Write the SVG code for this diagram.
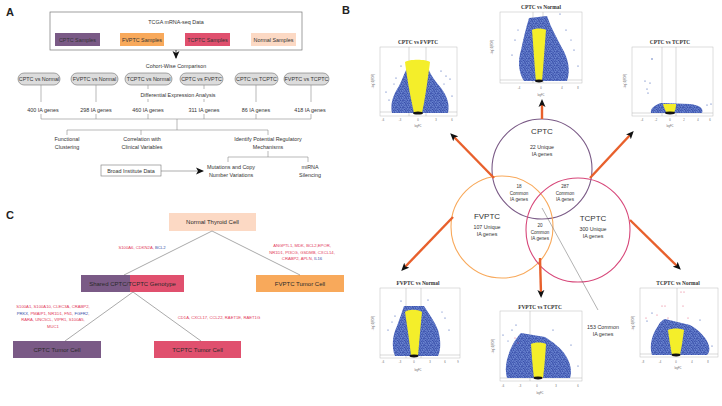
<svg xmlns="http://www.w3.org/2000/svg" width="722" height="406" viewBox="0 0 722 406">
<style>
.t{font-family:"Liberation Sans","Open Sans",Arial,sans-serif;fill:#333;text-anchor:middle}
.s{font-size:5.4px}
.lab{font-family:"Liberation Sans",Arial,sans-serif;font-weight:bold;font-size:11px;fill:#222}
.ln{stroke:#8a8a8a;stroke-width:0.6;fill:none}
.pill{fill:#dcdcdc;stroke:#6e6e6e;stroke-width:0.6}
.gene{font-family:"Liberation Sans",Arial,sans-serif;font-size:4.2px;fill:#e23a5a;text-anchor:middle}
.blue{fill:#3a4fa8}
.box{font-family:"Liberation Sans",Arial,sans-serif;font-size:6px;fill:#2a2a2a;text-anchor:middle}
.oarr{stroke:#e8602c;stroke-width:2.4;fill:none;marker-end:url(#ah)}
.vt{font-family:"Liberation Serif","Times New Roman",serif;font-weight:bold;font-size:5.4px;fill:#333;text-anchor:middle}
.fr{fill:#fff;stroke:#bdbdbd;stroke-width:0.5}
.th{stroke:#b0b0b0;stroke-width:0.5}
.cl{fill:#3556b0}
.yl{fill:#f4ee2a}
.cloud{fill:url(#dots)}
.ax{font-family:"Liberation Sans",Arial,sans-serif;font-size:2.6px;fill:#666;text-anchor:middle}
.vn{font-family:"Liberation Sans",Arial,sans-serif;fill:#333;text-anchor:middle}
</style>
<defs>
<marker id="ah" markerUnits="userSpaceOnUse" markerWidth="8" markerHeight="8" refX="4" refY="4" orient="auto"><path d="M0,0.5 L8,4 L0,7.5 L2,4 Z" fill="#111"/></marker>
<marker id="bh" markerUnits="userSpaceOnUse" markerWidth="8" markerHeight="8" refX="7" refY="4" orient="auto"><path d="M0,0.5 L8,4 L0,7.5 L2,4 Z" fill="#111"/></marker>
<pattern id="dots" width="7" height="7" patternUnits="userSpaceOnUse">
<rect width="7" height="7" fill="#6d87d2"/>
<g fill="#23389a">
<circle cx="0.6" cy="0.8" r="0.6"/><circle cx="2.3" cy="0.3" r="0.55"/><circle cx="4.1" cy="1.2" r="0.6"/><circle cx="5.9" cy="0.6" r="0.55"/>
<circle cx="1.4" cy="2.2" r="0.6"/><circle cx="3.2" cy="2.6" r="0.55"/><circle cx="5.0" cy="2.4" r="0.6"/><circle cx="6.6" cy="2.9" r="0.5"/>
<circle cx="0.4" cy="3.9" r="0.55"/><circle cx="2.2" cy="4.1" r="0.6"/><circle cx="4.0" cy="3.8" r="0.55"/><circle cx="5.8" cy="4.4" r="0.6"/>
<circle cx="1.2" cy="5.6" r="0.6"/><circle cx="3.1" cy="5.4" r="0.55"/><circle cx="4.8" cy="6.0" r="0.6"/><circle cx="6.5" cy="5.9" r="0.55"/>
<circle cx="0.3" cy="6.7" r="0.45"/><circle cx="2.6" cy="6.8" r="0.45"/>
</g>
<g fill="#4a66c0"><circle cx="3.5" cy="0.7" r="0.4"/><circle cx="6.2" cy="1.7" r="0.4"/><circle cx="0.5" cy="2.9" r="0.4"/><circle cx="4.7" cy="4.9" r="0.4"/><circle cx="1.9" cy="4.9" r="0.4"/></g>
</pattern>
</defs>
<rect width="722" height="406" fill="#fff"/>

<text class="lab" x="6" y="16">A</text>
<text class="lab" x="342" y="14">B</text>
<text class="lab" x="6" y="219">C</text>

<!-- Panel A -->
<g id="tcga">
<rect x="50" y="12" width="252" height="38" fill="#fff" stroke="#777" stroke-width="0.7"/>
<text class="t s" x="176" y="24">TCGA mRNA-seq Data</text>
<rect x="55" y="33" width="45" height="13" fill="#7a5a86"/>
<text class="t s" x="77.5" y="41.5">CPTC Samples</text>
<rect x="120" y="33" width="44" height="13" fill="#f8a95b"/>
<text class="t s" x="142" y="41.5">FVPTC Samples</text>
<rect x="185" y="33" width="45" height="13" fill="#e0506e"/>
<text class="t s" x="207.5" y="41.5">TCPTC Samples</text>
<rect x="251" y="33" width="45" height="13" fill="#fcd9c4"/>
<text class="t s" x="273.5" y="41.5">Normal Samples</text>
</g>
<text class="t s" x="176" y="67.5">Cohort-Wise Comparison</text>
<g id="pills">
<rect class="pill" x="18" y="73" width="42" height="12" rx="6"/><text class="t s" x="39" y="81">CPTC vs Normal</text>
<rect class="pill" x="71" y="73" width="47" height="12" rx="6"/><text class="t s" x="94.5" y="81">FVPTC vs Normal</text>
<rect class="pill" x="125" y="73" width="47" height="12" rx="6"/><text class="t s" x="148.5" y="81">TCPTC vs Normal</text>
<rect class="pill" x="180" y="73" width="43" height="12" rx="6"/><text class="t s" x="201.5" y="81">CPTC vs FVPTC</text>
<rect class="pill" x="235" y="73" width="43" height="12" rx="6"/><text class="t s" x="256.5" y="81">CPTC vs TCPTC</text>
<rect class="pill" x="284" y="73" width="45" height="12" rx="6"/><text class="t s" x="306.5" y="81">FVPTC vs TCPTC</text>
</g>
<text class="t s" x="178" y="97">Differential Expression Analysis</text>
<g class="t s">
<text x="43" y="112">400 IA genes</text>
<text x="96" y="112">298 IA genes</text>
<text x="148" y="112">460 IA genes</text>
<text x="204" y="112">311 IA genes</text>
<text x="256" y="112">86 IA genes</text>
<text x="310" y="112">418 IA genes</text>
</g>
<g class="t s">
<text x="67" y="141">Functional</text><text x="67" y="149">Clustering</text>
<text x="142" y="141">Correlation with</text><text x="142" y="149">Clinical Variables</text>
<text x="268" y="141">Identify Potential Regulatory</text><text x="268" y="149">Mechanisms</text>
<text x="231" y="169">Mutations and Copy</text><text x="231" y="177">Number Variations</text>
<text x="310" y="169">miRNA</text><text x="310" y="177">Silencing</text>
</g>
<g id="broad">
<rect x="101" y="165" width="60" height="11" fill="#fff" stroke="#777" stroke-width="0.6"/>
<text class="t s" x="131" y="172.5">Broad Institute Data</text>
</g>
<g id="connectorsA">
<line x1="176" y1="50" x2="176" y2="58" stroke="#111" stroke-width="0.8" marker-end="url(#bh)"/>
<path class="ln" d="M41,85V102 M96,85V102 M148,85V89 M148,99V102 M204,85V89 M204,99V102 M256,85V102 M311,85V102"/>
<path class="ln" d="M41,114V119 M96,114V119 M148,114V119 M204,114V119 M256,114V119 M311,114V119 M41,119H311 M177,119V130 M67,130H268 M67,130V135 M141,130V135 M268,130V135"/>
<path class="ln" d="M268,151V157 M228,157H308 M228,157V162 M308,157V162"/>
<line x1="161" y1="171" x2="203" y2="171" stroke="#777" stroke-width="0.6" marker-end="url(#bh)"/>
</g>

<!-- Panel C -->
<g id="normalCell"><rect x="169" y="213" width="87" height="18" fill="#fcd9c4"/><text class="box" x="212.5" y="224">Normal Thyroid Cell</text></g>
<g id="shared"><rect x="81" y="275" width="49" height="17" fill="#7a5a86"/><rect x="130" y="275" width="54" height="17" fill="#e0506e"/><text class="box" x="132.5" y="285.5">Shared CPTC/TCPTC Genotype</text></g>
<g id="fvptcCell"><rect x="256" y="275" width="88" height="17" fill="#f8a95b"/><text class="box" x="300" y="285.5">FVPTC Tumor Cell</text></g>
<g id="cptcCell"><rect x="13" y="341" width="88" height="17" fill="#7a5a86"/><text class="box" x="57" y="351.5">CPTC Tumor Cell</text></g>
<g id="tcptcCell"><rect x="154" y="341" width="87" height="17" fill="#e0506e"/><text class="box" x="197.5" y="351.5">TCPTC Tumor Cell</text></g>
<g id="connectorsC" stroke="#555" stroke-width="0.5">
<line x1="212" y1="231" x2="124" y2="275"/>
<line x1="212" y1="231" x2="300" y2="275"/>
<line x1="133" y1="292" x2="65" y2="341"/>
<line x1="133" y1="292" x2="201" y2="341"/>
</g>
<text class="gene" x="142" y="249">S100A6, CDKN2A, <tspan class="blue">BCL2</tspan></text>
<text class="gene" x="302" y="247">ANGPTL1, MDK, BCL2,EPOR,</text>
<text class="gene" x="302" y="253.5">NR1D1, PI3CG, GSDMB, CXCL14,</text>
<text class="gene" x="302" y="260">CRABP2, APLN, <tspan class="blue">IL16</tspan></text>
<text class="gene" x="53" y="308">S100A1, S100A10, CLEC3A, CRABP2,</text>
<text class="gene" x="53" y="314.5"><tspan class="blue">PRKX</tspan>, PMAIP1, NR1D1, FN1, <tspan class="blue">FGFR2</tspan>,</text>
<text class="gene" x="53" y="321">RARA, UNC5CL, VIPR1, S100A5,</text>
<text class="gene" x="53" y="327.5">MUC1</text>
<text class="gene" x="219" y="318.5">CD1A, CXCL17, CCL22, RAET1E, RAET1G</text>

<!-- Panel B: volcano plots -->
<g id="v1">
<text class="vt" x="418" y="44">CPTC vs FVPTC</text>
<rect class="fr" x="380" y="47" width="77" height="69"/>
<line class="th" x1="380" y1="112" x2="457" y2="112"/><line class="th" x1="409" y1="47" x2="409" y2="116"/><line class="th" x1="426" y1="47" x2="426" y2="116"/>
<path class="cloud" d="M392,113 C390,104 393,95 399,86 C402,80 404,74 407,68 L428,68 C431,76 436,82 441,88 C447,96 450,104 448,113 Z"/>
<path class="yl" d="M405,62 C408,86 412,104 414,113 L422,113 C424,104 427,86 430,62 C426,59 409,59 405,62 Z"/>
<ellipse cx="418" cy="113" rx="5" ry="1.6" fill="#111"/>
<g class="cl"><circle cx="386" cy="92" r="0.6"/><circle cx="389" cy="100" r="0.6"/><circle cx="401" cy="66" r="0.6"/><circle cx="441" cy="71" r="0.6"/><circle cx="450" cy="79" r="0.6"/><circle cx="452" cy="96" r="0.6"/><circle cx="446" cy="76" r="0.6"/><circle cx="396" cy="78" r="0.6"/><circle cx="394" cy="84" r="0.5"/><circle cx="444" cy="84" r="0.5"/></g>
<text class="ax" x="374" y="81" transform="rotate(-90 374 81)">-log10(FDR)</text>
<text class="ax" x="418" y="127">logFC</text>
<g class="ax"><text x="383" y="121">-6</text><text x="400" y="121">-3</text><text x="418" y="121">0</text><text x="436" y="121">3</text><text x="452" y="121">6</text></g>
</g>
<g id="v2">
<text class="vt" x="541" y="9">CPTC vs Normal</text>
<rect class="fr" x="500" y="12" width="82" height="71"/>
<line class="th" x1="500" y1="80" x2="582" y2="80"/><line class="th" x1="533" y1="12" x2="533" y2="83"/><line class="th" x1="543" y1="12" x2="543" y2="83"/>
<path class="cloud" d="M524,81 C518,72 518,60 521,50 C523,40 526,28 529,18 L547,16 C551,28 557,38 562,48 C568,58 571,70 567,81 Z"/>
<path class="yl" d="M532,30 C534,55 535,72 536,81 L542,81 C543,72 544,55 546,30 C543,28 535,28 532,30 Z"/>
<ellipse cx="539" cy="81" rx="4" ry="1.4" fill="#111"/>
<g class="cl"><circle cx="512" cy="55" r="0.6"/><circle cx="515" cy="40" r="0.6"/><circle cx="574" cy="50" r="0.6"/><circle cx="578" cy="66" r="0.6"/><circle cx="560" cy="14" r="0.6"/><circle cx="566" cy="30" r="0.6"/><circle cx="518" cy="30" r="0.5"/><circle cx="571" cy="40" r="0.5"/></g>
<text class="ax" x="493" y="47" transform="rotate(-90 493 47)">-log10(FDR)</text>
<text class="ax" x="541" y="96">logFC</text>
<g class="ax"><text x="519" y="89">-4</text><text x="541" y="89">0</text><text x="562" y="89">4</text><text x="578" y="89">8</text></g>
</g>
<g id="v3">
<text class="vt" x="670" y="44">CPTC vs TCPTC</text>
<rect class="fr" x="632" y="47" width="81" height="69"/>
<line class="th" x1="632" y1="113" x2="713" y2="113"/><line class="th" x1="662" y1="47" x2="662" y2="116"/><line class="th" x1="676" y1="47" x2="676" y2="116"/>
<path class="cloud" d="M651,113 C650,108 655,105 661,103 L690,104 C699,105 704,108 702,113 Z"/>
<path class="yl" d="M663,104 C664,108 666,112 667,113 L673,113 C675,112 676,108 676,104 Z"/>
<ellipse cx="670" cy="113" rx="5" ry="1.4" fill="#111"/>
<g class="cl"><circle cx="652" cy="59" r="0.7"/><circle cx="645" cy="81" r="0.6"/><circle cx="650" cy="83" r="0.6"/><circle cx="647" cy="89" r="0.6"/><circle cx="648" cy="93" r="0.6"/><circle cx="707" cy="105" r="0.6"/><circle cx="711" cy="104" r="0.6"/></g>
<text class="ax" x="626" y="81" transform="rotate(-90 626 81)">-log10(FDR)</text>
<text class="ax" x="670" y="127">logFC</text>
<g class="ax"><text x="642" y="121">-4</text><text x="656" y="121">-2</text><text x="670" y="121">0</text><text x="684" y="121">2</text><text x="698" y="121">4</text><text x="710" y="121">6</text></g>
</g>
<g id="v4">
<text class="vt" x="418" y="285">FVPTC vs Normal</text>
<rect class="fr" x="380" y="288" width="80" height="70"/>
<line class="th" x1="380" y1="355" x2="460" y2="355"/><line class="th" x1="406" y1="288" x2="406" y2="358"/><line class="th" x1="421" y1="288" x2="421" y2="358"/>
<path class="cloud" d="M395,356 C391,346 393,334 397,326 C400,318 402,312 404,306 L424,306 C429,314 435,322 438,330 C441,340 441,350 438,356 Z"/>
<path class="yl" d="M405,312 C408,332 410,346 411,356 L418,356 C419,346 420,332 422,312 C418,309 408,309 405,312 Z"/>
<ellipse cx="414" cy="356" rx="4.5" ry="1.4" fill="#111"/>
<g class="cl"><circle cx="388" cy="330" r="0.6"/><circle cx="395" cy="316" r="0.6"/><circle cx="401" cy="301" r="0.6"/><circle cx="428" cy="300" r="0.6"/><circle cx="445" cy="318" r="0.6"/><circle cx="449" cy="330" r="0.6"/><circle cx="392" cy="322" r="0.5"/><circle cx="442" cy="312" r="0.5"/></g>
<text class="ax" x="374" y="323" transform="rotate(-90 374 323)">-log10(FDR)</text>
<text class="ax" x="418" y="371">logFC</text>
<g class="ax"><text x="383" y="363">-6</text><text x="400" y="363">-3</text><text x="414" y="363">0</text><text x="430" y="363">3</text><text x="445" y="363">6</text><text x="458" y="363">9</text></g>
</g>
<g id="v5">
<text class="vt" x="540" y="309">FVPTC vs TCPTC</text>
<rect class="fr" x="500" y="311" width="82" height="70"/>
<line class="th" x1="500" y1="378" x2="582" y2="378"/><line class="th" x1="530" y1="311" x2="530" y2="381"/>
<path class="cloud" d="M507,378 C504,368 507,356 512,346 C515,340 518,336 521,333 L545,337 C553,342 561,348 566,356 C571,364 572,372 570,378 Z"/>
<path class="yl" d="M531,344 C532,360 533,370 534,378 L543,378 C544,370 545,360 546,344 C542,342 535,342 531,344 Z"/>
<ellipse cx="538" cy="378" rx="4.5" ry="1.4" fill="#111"/>
<g class="cl"><circle cx="503" cy="335" r="0.6"/><circle cx="512" cy="330" r="0.6"/><circle cx="516" cy="325" r="0.6"/><circle cx="553" cy="330" r="0.6"/><circle cx="571" cy="345" r="0.6"/><circle cx="578" cy="366" r="0.6"/><circle cx="508" cy="341" r="0.5"/></g>
<g fill="#e04a6a"><circle cx="515" cy="338" r="0.5"/><circle cx="518" cy="343" r="0.5"/></g>
<text class="ax" x="494" y="346" transform="rotate(-90 494 346)">-log10(FDR)</text>
<text class="ax" x="540" y="394">logFC</text>
<g class="ax"><text x="503" y="387">-6</text><text x="520" y="387">-3</text><text x="537" y="387">0</text><text x="556" y="387">3</text><text x="578" y="387">6</text></g>
</g>
<g id="v6">
<text class="vt" x="678" y="285">TCPTC vs Normal</text>
<rect class="fr" x="640" y="288" width="78" height="69"/>
<line class="th" x1="640" y1="354" x2="718" y2="354"/><line class="th" x1="677" y1="288" x2="677" y2="357"/>
<path class="cloud" d="M652,355 C649,346 652,334 658,326 C660,322 662,320 665,319 L690,325 C699,330 707,338 709,346 C710,350 709,353 707,355 Z"/>
<path class="yl" d="M668,330 C670,345 671,350 672,355 L680,355 C681,350 682,345 684,330 C680,328 672,328 668,330 Z"/>
<ellipse cx="676" cy="355" rx="4.5" ry="1.4" fill="#111"/>
<g class="cl"><circle cx="647" cy="321" r="0.6"/><circle cx="652" cy="313" r="0.6"/><circle cx="700" cy="320" r="0.6"/><circle cx="712" cy="346" r="0.6"/></g>
<g fill="#e04a6a"><circle cx="662" cy="306" r="0.5"/><circle cx="665" cy="306" r="0.5"/><circle cx="681" cy="292" r="0.5"/><circle cx="684" cy="292" r="0.5"/><circle cx="683" cy="306" r="0.5"/><circle cx="657" cy="315" r="0.5"/><circle cx="688" cy="318" r="0.5"/><circle cx="668" cy="318" r="0.5"/><circle cx="646" cy="318" r="0.5"/></g>
<text class="ax" x="634" y="323" transform="rotate(-90 634 323)">-log10(FDR)</text>
<text class="ax" x="678" y="369">logFC</text>
<g class="ax"><text x="643" y="363">-8</text><text x="660" y="363">-4</text><text x="676" y="363">0</text><text x="692" y="363">4</text><text x="708" y="363">8</text></g>
</g>

<!-- Venn -->
<g id="venn-cptc"><circle cx="542" cy="169" r="50" fill="none" stroke="#7a5a86" stroke-width="1.1"/>
<text class="vn" x="542" y="134" font-size="8">CPTC</text>
<text class="vn" x="542" y="149" font-size="5.3">22 Unique</text><text class="vn" x="542" y="156" font-size="5.3">IA genes</text></g>
<g id="venn-fvptc"><circle cx="502" cy="227" r="51" fill="none" stroke="#f8a95b" stroke-width="1.1"/>
<text class="vn" x="487" y="219" font-size="8">FVPTC</text>
<text class="vn" x="487" y="229" font-size="5.3">107 Unique</text><text class="vn" x="487" y="236" font-size="5.3">IA genes</text></g>
<g id="venn-tcptc"><circle cx="578" cy="230" r="52" fill="none" stroke="#d7487a" stroke-width="1.1"/>
<text class="vn" x="593" y="221" font-size="8">TCPTC</text>
<text class="vn" x="593" y="231" font-size="5.3">300 Unique</text><text class="vn" x="593" y="238" font-size="5.3">IA genes</text></g>
<g class="vn" font-size="4.6">
<text x="519" y="188">18</text><text x="519" y="194.5">Common</text><text x="519" y="201">IA genes</text>
<text x="565" y="188">287</text><text x="565" y="194.5">Common</text><text x="565" y="201">IA genes</text>
<text x="540" y="227">20</text><text x="540" y="233.5">Common</text><text x="540" y="240">IA genes</text>
</g>
<text class="vn" x="603" y="329" font-size="5.3">153 Common</text><text class="vn" x="603" y="336" font-size="5.3">IA genes</text>
<g id="connectorsB">
<line x1="542" y1="208" x2="598" y2="310" stroke="#666" stroke-width="0.5"/>
<line class="oarr" x1="542" y1="119" x2="542" y2="103"/>
<line class="oarr" x1="494" y1="178" x2="453" y2="136"/>
<line class="oarr" x1="590" y1="178" x2="631" y2="134"/>
<line class="oarr" x1="453" y1="217" x2="404" y2="268"/>
<line class="oarr" x1="540" y1="258" x2="541" y2="294"/>
<line class="oarr" x1="630" y1="220" x2="678" y2="267"/>
</g>
</svg>
